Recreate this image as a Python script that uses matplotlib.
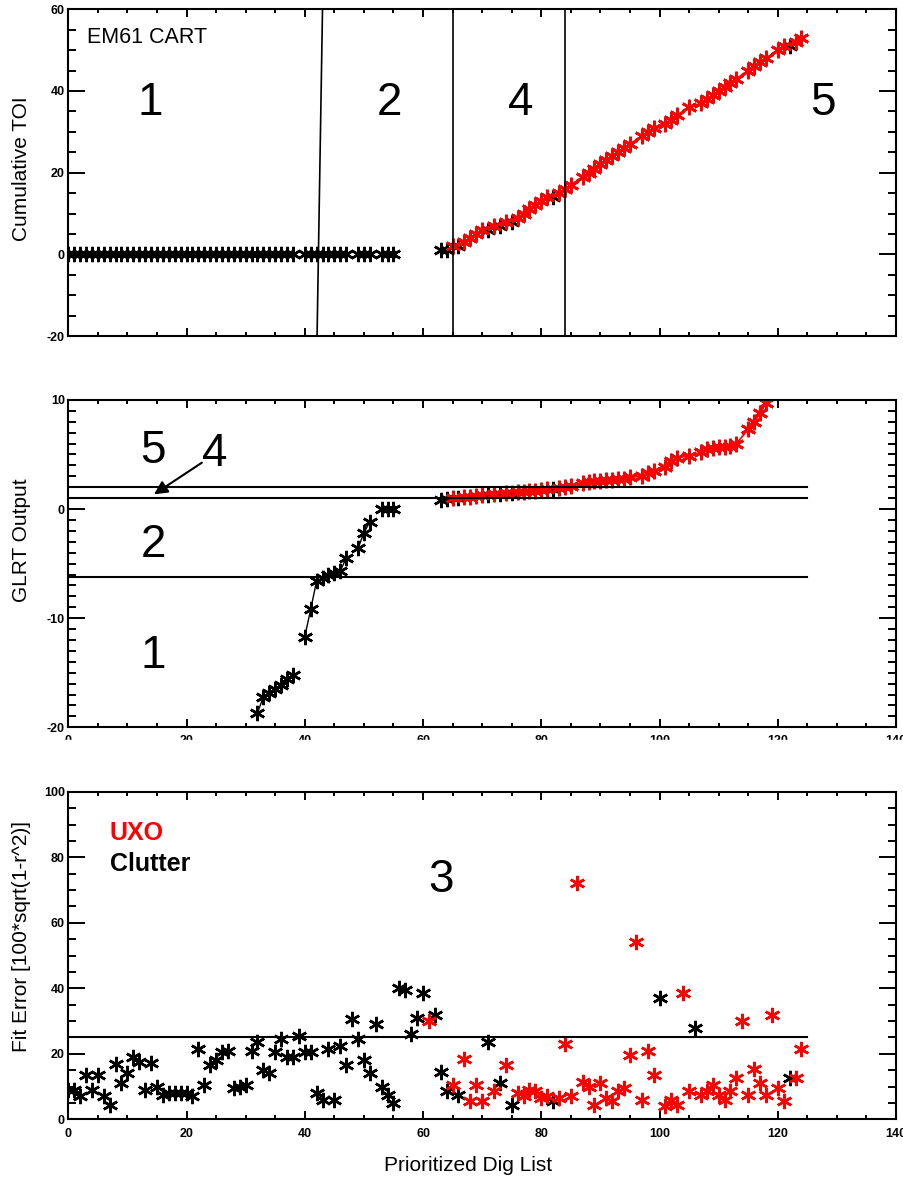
import numpy as np
import matplotlib.pyplot as plt
from matplotlib.patches import Rectangle

plt.rcParams['font.family'] = ['Liberation Sans', 'DejaVu Sans']
plt.rcParams['axes.unicode_minus'] = False

# prioritized dig list: rank 0..124
rank = np.arange(125)

# fit error [100*sqrt(1-r^2)] for every item in the dig list
fit_error = [9, 9, 7, 13.5, 9, 13.5, 7, 4.5, 17, 11,
             14, 19, 17.6, 9, 17.3, 10, 7.5, 7.9, 8, 7.9,
             7.9, 7, 21.5, 10.5, 16.5, 18, 20.5, 21, 9.5, 10,
             10.5, 21, 23.5, 15, 14, 20.5, 24.5, 19, 19, 25.5,
             20.5, 20.5, 8, 6, 21.5, 6, 22.5, 16.5, 30.5, 24.5,
             18, 14, 29, 10, 7.5, 5, 40, 39.5, 26, 31,
             38.5, 30, 32, 14.5, 8.5, 10.5, 7.5, 18.5, 5.5, 10.5,
             5.5, 23.5, 8.5, 11, 16.5, 4.5, 8, 7, 9, 8.5,
             6.5, 7, 5.5, 6.5, 23, 7, 72, 11.5, 10, 4.5,
             11, 6.5, 5.5, 8.5, 9.5, 19.5, 54, 6, 21, 13.5,
             37, 4, 6, 4.5, 38.5, 8.5, 28, 7.5, 8.5, 10.5,
             7.5, 6, 8.5, 12.5, 30, 7.5, 15.5, 11, 7.5, 32,
             9.5, 5.5, 12.5, 12.5, 21.5]

# items that turned out to be UXO
uxo_items = [61, 65, 67, 68, 69, 70, 72, 74, 76, 77, 78, 79, 80, 81,
             83, 84, 85, 86, 87, 88, 89, 90, 91, 92, 93, 94, 95, 96, 97, 98, 99,
             101, 102, 103, 104, 105,
             107, 108, 109, 110, 111, 112, 113, 114, 115, 116, 117, 118, 119, 120, 121,
             123, 124]

# cumulative number of TOI found
cum_toi = [0] * 61 + [1, 1, 1, 1, 2, 2, 3, 4, 5, 6,
                      6, 7, 7, 8, 8, 9, 10, 11, 12, 13,
                      14, 14, 15, 16, 17, 18, 19, 20, 21, 22,
                      23, 24, 25, 26, 27, 28, 29, 30, 31, 31,
                      32, 33, 34, 35, 36, 36, 37, 38, 39, 40,
                      41, 42, 43, 44, 45, 46, 47, 48, 49, 50,
                      51, 51, 52, 53]

# GLRT output (only the part inside the plotted range)
glrt_rank = [32, 33, 34, 35, 36, 37, 38, 40, 41, 42, 43, 44, 45, 46, 47, 49, 50, 51, 53, 54, 55,
             63, 64, 65, 66, 67, 68, 69, 70, 71, 72, 73, 74, 75, 76, 77, 78, 79, 80, 81, 82,
             83, 84, 85, 87, 88, 89, 90, 91, 92, 93, 94, 95, 97, 98, 99, 101, 102, 103, 105,
             107, 108, 109, 110, 111, 112, 113, 115, 116, 117, 118]
glrt_value = [-18.7, -17.2, -16.9, -16.5, -16.1, -15.6, -15.2, -11.7, -9.2, -6.6, -6.35, -6.05,
              -5.9, -5.7, -4.5, -3.6, -2.2, -1.15, 0.0, 0.0, 0.0,
              0.85, 0.9, 1.0, 1.05, 1.1, 1.15, 1.2, 1.25, 1.3, 1.35, 1.4, 1.45, 1.5, 1.55, 1.6,
              1.65, 1.7, 1.75, 1.8, 1.85,
              1.95, 2.05, 2.15, 2.35, 2.45, 2.55, 2.6, 2.65, 2.7, 2.75, 2.8, 2.9, 3.0, 3.3, 3.5,
              3.9, 4.4, 4.7, 4.9,
              5.2, 5.5, 5.6, 5.65, 5.7, 5.8, 6.0, 7.3, 8.0, 8.8, 9.7]

fit_cut = 25
glrt_cuts = [2, 1, -6.25]
toi_cuts = [65, 84]
slant_x = [42.08, 43.0]
slant_y = [-20, 60]

fit_error = np.array(fit_error)
is_uxo = np.isin(rank, uxo_items)
keep = fit_error <= fit_cut

mk = dict(marker=(6, 2, 0), markersize=11, markeredgewidth=1.8)

fig = plt.figure(figsize=(9.04, 11.77), dpi=100)
ax1 = fig.add_axes([0.0755, 0.7145, 0.9157, 0.2776])
ax2 = fig.add_axes([0.0755, 0.3821, 0.9157, 0.2781])
ax3 = fig.add_axes([0.0755, 0.0490, 0.9157, 0.2783])


def style(ax, ymaj, ymin):
    ax.set_xlim(0, 140)
    ax.set_xticks(np.arange(0, 141, 20))
    ax.set_xticks(np.arange(0, 141, 5), minor=True)
    ax.set_yticks(ymaj)
    ax.set_yticks(ymin, minor=True)
    ax.tick_params(axis='both', which='both', direction='in', top=True, right=True,
                   width=1.4, labelsize=9)
    ax.tick_params(axis='x', which='major', length=6, pad=6)
    ax.tick_params(axis='x', which='minor', length=3.2)
    ax.tick_params(axis='y', which='major', length=12.5, pad=2.4)
    ax.tick_params(axis='y', which='minor', length=6)
    for lab in ax.get_xticklabels() + ax.get_yticklabels():
        lab.set_fontweight('bold')
    for s in ax.spines.values():
        s.set_linewidth(1.5)


# ---- top: cumulative TOI
c_all = np.where(keep, cum_toi, np.nan)
ax1.plot(rank, c_all, color='black', lw=1, **mk)
sel = is_uxo & keep
ax1.plot(rank[sel], np.array(cum_toi)[sel], color='red', lw=1.2, **mk)
for xc in toi_cuts:
    ax1.axvline(xc, color='black', lw=1.2)
ax1.plot(slant_x, slant_y, color='black', lw=1.2)
ax1.set_ylim(-20, 60)
style(ax1, [-20, 0, 20, 40, 60], np.arange(-20, 61, 5))
ax1.set_xticklabels([])
ax1.set_ylabel('Cumulative TOI', fontsize=15)
ax1.yaxis.set_label_coords(-0.045, 0.512)
ax1.text(3.1, 51.7, 'EM61 CART', fontsize=15.5)
for lab, xl in [('1', 13.8), ('2', 54.3), ('4', 76.5), ('5', 127.6)]:
    ax1.text(xl, 34.1, lab, fontsize=33, ha='center', va='baseline')

# ---- middle: GLRT output
g_all = np.full(125, np.nan)
g_all[glrt_rank] = glrt_value
ax2.plot(rank, g_all, color='black', lw=1, **mk)
gr = np.array(glrt_rank)
gsel = np.isin(gr, uxo_items)
ax2.plot(gr[gsel], np.array(glrt_value)[gsel], color='red', lw=1.2, **mk)
for yc in glrt_cuts:
    ax2.plot([0, 125], [yc, yc], color='black', lw=1.5)
ax2.set_ylim(-20, 10)
style(ax2, [-20, -10, 0, 10], np.arange(-20, 11, 1))
ax2.tick_params(axis='x', which='major', pad=5.5)
ax2.set_ylabel('GLRT Output', fontsize=15)
ax2.yaxis.set_label_coords(-0.045, 0.572)
for lab, xl, yl in [('5', 14.4, 4.25), ('4', 24.8, 3.95), ('2', 14.4, -4.36), ('1', 14.4, -14.6)]:
    ax2.text(xl, yl, lab, fontsize=33, ha='center', va='baseline')
ax2.annotate('', xy=(14.5, 1.35), xytext=(22.6, 4.25),
             arrowprops=dict(arrowstyle='-|>', color='black', lw=1.5,
                             mutation_scale=20, shrinkA=0, shrinkB=0))

# ---- bottom: fit error
ax3.plot(rank[~is_uxo], fit_error[~is_uxo], color='black', lw=0, **mk)
ax3.plot(rank[is_uxo], fit_error[is_uxo], color='red', lw=0, **mk)
ax3.plot([0, 125], [fit_cut, fit_cut], color='black', lw=1.5)
ax3.set_ylim(0, 100)
style(ax3, [0, 20, 40, 60, 80, 100], np.arange(0, 101, 5))
ax3.set_ylabel('Fit Error [100*sqrt(1-r^2)]', fontsize=15)
ax3.yaxis.set_label_coords(-0.045, 0.557)
ax3.set_xlabel('Prioritized Dig List', fontsize=15)
ax3.xaxis.set_label_coords(0.483, -0.112)
ax3.text(7.05, 85.3, 'UXO', color='red', fontsize=18, fontweight='bold')
ax3.text(7.05, 75.9, 'Clutter', color='black', fontsize=18, fontweight='bold')
ax3.text(63.1, 69.5, '3', fontsize=33, ha='center', va='baseline')

# the middle panel's x labels are cut in half in the original
fig.patches.append(Rectangle((0, 1 - 762 / 1177), 1, 22 / 1177,
                             transform=fig.transFigure, color='white', zorder=10))

fig.savefig('out.png', dpi=100)
